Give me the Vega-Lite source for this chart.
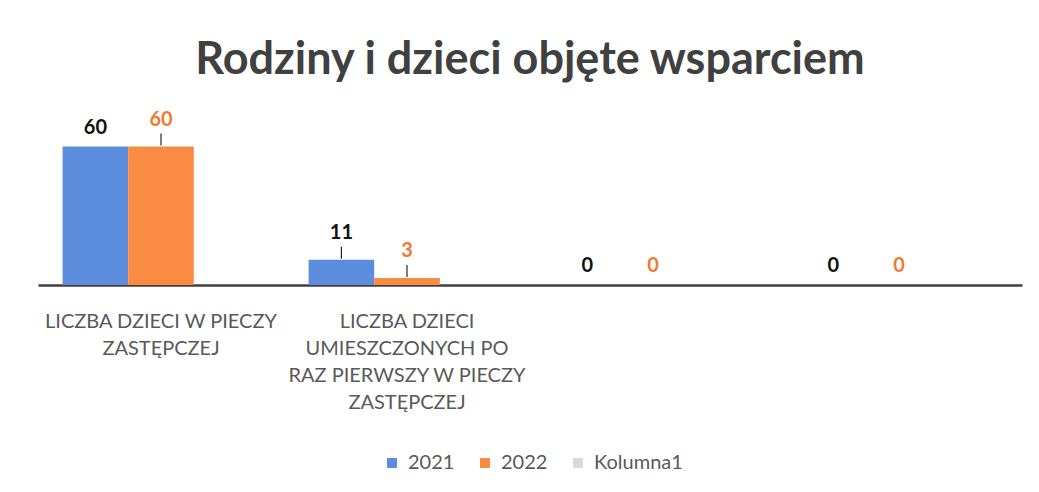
{
  "$schema": "https://vega.github.io/schema/vega-lite/v6.json",
  "autosize": {"type": "none"},
  "width": 984,
  "height": 173,
  "padding": {"left": 38, "top": 112, "right": 17, "bottom": 207},
  "background": "#ffffff",
  "config": {
    "font": "Lato",
    "view": {"stroke": null}
  },
  "title": {
    "text": "Rodziny i dzieci objęte wsparciem",
    "font": "Lato",
    "fontSize": 45,
    "fontWeight": "bold",
    "color": "#404040",
    "anchor": "middle",
    "offset": 27
  },
  "data": {
    "values": [
      {"kategoria": "LICZBA DZIECI W PIECZY|ZASTĘPCZEJ", "rok": "2021", "wartosc": 60},
      {"kategoria": "LICZBA DZIECI W PIECZY|ZASTĘPCZEJ", "rok": "2022", "wartosc": 60},
      {"kategoria": "LICZBA DZIECI|UMIESZCZONYCH PO|RAZ PIERWSZY W PIECZY|ZASTĘPCZEJ", "rok": "2021", "wartosc": 11},
      {"kategoria": "LICZBA DZIECI|UMIESZCZONYCH PO|RAZ PIERWSZY W PIECZY|ZASTĘPCZEJ", "rok": "2022", "wartosc": 3},
      {"kategoria": " ", "rok": "2021", "wartosc": 0},
      {"kategoria": " ", "rok": "2022", "wartosc": 0},
      {"kategoria": "  ", "rok": "2021", "wartosc": 0},
      {"kategoria": "  ", "rok": "2022", "wartosc": 0}
    ]
  },
  "encoding": {
    "x": {
      "field": "kategoria",
      "type": "nominal",
      "sort": null,
      "scale": {"paddingInner": 0.2, "paddingOuter": 0.1},
      "axis": {
        "title": null,
        "labelAngle": 0,
        "labelExpr": "split(datum.label, '|')",
        "labelFont": "Lato",
        "labelFontSize": 20,
        "labelLineHeight": 27,
        "labelColor": "#595959",
        "labelPadding": 26,
        "labelLimit": 0,
        "ticks": false,
        "domainColor": "#404040",
        "domainWidth": 2.5,
        "grid": false
      }
    },
    "xOffset": {
      "field": "rok",
      "type": "nominal",
      "scale": {"domain": ["2021", "2022", "Kolumna1"], "paddingInner": 0}
    },
    "y": {
      "field": "wartosc",
      "type": "quantitative",
      "scale": {"domain": [0, 75]},
      "axis": null
    }
  },
  "layer": [
    {
      "mark": {"type": "bar"},
      "encoding": {
        "color": {
          "field": "rok",
          "type": "nominal",
          "scale": {"domain": ["2021", "2022", "Kolumna1"], "range": ["#5B8DDC", "#FA8B42", "#D9D9E0"]},
          "legend": {
            "title": null,
            "orient": "none",
            "legendX": 344,
            "legendY": 341,
            "direction": "horizontal",
            "symbolType": "square",
            "symbolSize": 100,
            "symbolStrokeWidth": 0,
            "labelFont": "Lato",
            "labelFontSize": 20,
            "labelColor": "#595959",
            "labelOffset": 6,
            "columnPadding": 20
          }
        }
      }
    },
    {
      "transform": [{"filter": "datum.wartosc > 0 && !(datum.rok == '2021' && datum.wartosc == 60)"}],
      "mark": {"type": "rule", "color": "#262626", "strokeWidth": 1.2, "yOffset": -1, "y2Offset": -13},
      "encoding": {
        "y2": {"field": "wartosc"}
      }
    },
    {
      "transform": [{"filter": "datum.wartosc > 0 && !(datum.rok == '2021' && datum.wartosc == 60)"}],
      "mark": {"type": "text", "dy": -27, "fontSize": 20, "fontWeight": "bold", "font": "Lato"},
      "encoding": {
        "text": {"field": "wartosc", "type": "quantitative"},
        "color": {
          "condition": {"test": "datum.rok == '2022'", "value": "#F07A35"},
          "value": "#111111"
        }
      }
    },
    {
      "transform": [{"filter": "!(datum.wartosc > 0 && !(datum.rok == '2021' && datum.wartosc == 60))"}],
      "mark": {"type": "text", "dy": -19, "fontSize": 20, "fontWeight": "bold", "font": "Lato"},
      "encoding": {
        "text": {"field": "wartosc", "type": "quantitative"},
        "color": {
          "condition": {"test": "datum.rok == '2022'", "value": "#F07A35"},
          "value": "#111111"
        }
      }
    }
  ]
}
